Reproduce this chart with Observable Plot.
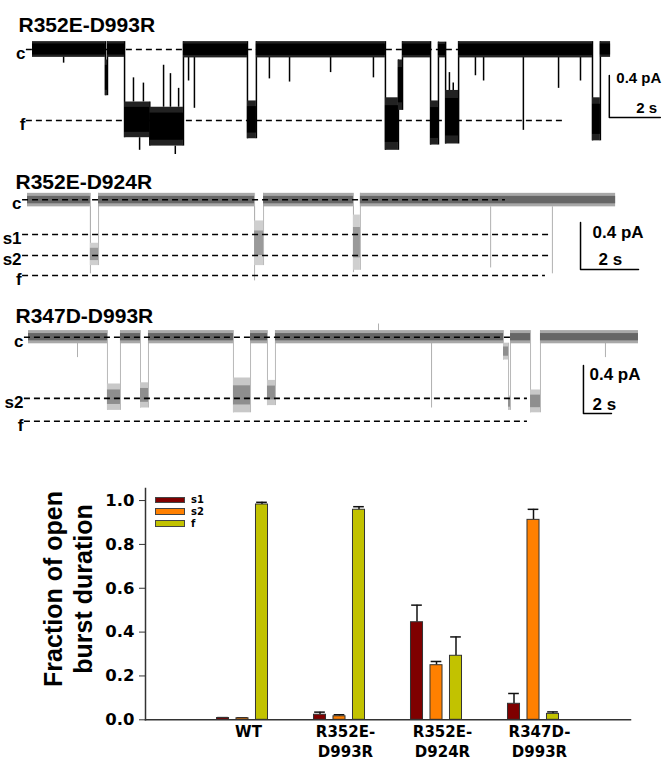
<!DOCTYPE html>
<html><head><meta charset="utf-8">
<script src="https://cdn.jsdelivr.net/npm/d3@7"></script>
<script src="https://cdn.jsdelivr.net/npm/@observablehq/plot@0.6"></script>
<style>
body{margin:0;background:#fff;}
#fig{position:relative;width:670px;height:761px;overflow:hidden;background:#fff;}
.panel{position:absolute;left:0;}
#legend{position:absolute;left:155px;top:494px;font-family:"DejaVu Sans",sans-serif;font-weight:bold;font-size:10px;}
#legend .row{display:flex;align-items:center;height:11.8px;line-height:11.8px;}
#legend .sw{width:30px;height:6.5px;box-sizing:border-box;border:1px solid #444;margin-right:6px;}
</style></head><body><div id="fig"></div>
<script>
// ===== Trace 1: R352E-D993R (time s, current pA relative to closed level)
const t1Name = "R352E-D993R";
const t1Segments = [ // [start, end, low, high, state]
  [0, 2.86, -0.075, 0.075, "c"],
  [2.86, 2.94, -0.44, -0.10, "x"],
  [2.94, 3.61, -0.075, 0.075, "c"],
  [3.61, 4.6, -0.84, -0.50, "f"],
  [4.6, 5.92, -0.92, -0.55, "f"],
  [5.92, 8.43, -0.08, 0.075, "c"],
  [8.43, 8.78, -0.85, -0.49, "f"],
  [8.78, 13.84, -0.08, 0.075, "c"],
  [13.84, 14.35, -0.96, -0.46, "f"],
  [14.35, 14.51, -0.58, -0.10, "x"],
  [14.51, 15.61, -0.08, 0.075, "c"],
  [15.61, 15.92, -0.91, -0.49, "f"],
  [15.92, 16.2, -0.08, 0.07, "c"],
  [16.2, 16.71, -0.90, -0.39, "f"],
  [16.71, 21.96, -0.08, 0.075, "c"],
  [21.96, 22.27, -0.87, -0.46, "f"],
  [22.27, 22.67, -0.075, 0.075, "c"]
];
const t1Spikes = [ // [time, from, to]
  [1.22, -0.07, -0.13], [6.12, -0.07, -0.30], [6.35, -0.07, -0.56], [9.29, -0.07, -0.28],
  [10.08, -0.07, -0.31], [11.69, -0.07, -0.22], [13.37, -0.07, -0.27], [17.37, -0.07, -0.25],
  [17.69, -0.07, -0.30], [19.25, -0.07, -0.77], [20.63, -0.07, -0.37], [21.49, -0.07, -0.30],
  [3.96, -0.5, -0.27], [4.35, -0.5, -0.32], [5.14, -0.55, -0.15], [5.41, -0.55, -0.23],
  [5.73, -0.55, -0.37], [16.35, -0.4, -0.22], [16.5, -0.4, -0.32], [4.2, -0.84, -0.96], [5.6, -0.92, -1.0]
];
const t1Levels = [ // [label, current, dash from, dash to]
  ["c", 0, -0.24, 16.71],
  ["f", -0.676, -0.24, 20.78]
];

// ===== Trace 2: R352E-D924R
const t2Name = "R352E-D924R";
const t2Segments = [
  [0, 2.17, -0.06, 0.055, "c"],
  [2.17, 2.45, -0.56, -0.37, "s2"],
  [2.45, 7.83, -0.06, 0.055, "c"],
  [7.83, 8.14, -0.56, -0.18, "s1"],
  [8.14, 11.24, -0.06, 0.055, "c"],
  [11.24, 11.48, -0.60, -0.13, "s1"],
  [11.48, 20.28, -0.06, 0.055, "c"]
];
const t2Spikes = [
  [2.17, -0.06, -0.63], [7.83, -0.06, -0.69], [11.24, -0.06, -0.62],
  [15.97, -0.06, -0.58], [18.1, -0.06, -0.63]
];
const t2Levels = [
  ["c", 0, -0.17, 16.48],
  ["s1", -0.295, -0.17, 17.97],
  ["s2", -0.474, -0.17, 17.97],
  ["f", -0.644, -0.17, 17.86]
];

// ===== Trace 3: R347D-D993R
const t3Name = "R347D-D993R";
const t3Segments = [
  [0, 5.64, -0.055, 0.055, "c"],
  [5.64, 6.57, -0.61, -0.39, "s2"],
  [6.57, 8.0, -0.055, 0.055, "c"],
  [8.0, 8.57, -0.59, -0.38, "s2"],
  [8.57, 14.64, -0.055, 0.055, "c"],
  [14.64, 15.86, -0.63, -0.34, "s2"],
  [15.86, 17.07, -0.055, 0.055, "c"],
  [17.07, 17.64, -0.57, -0.36, "s2"],
  [17.64, 33.93, -0.055, 0.055, "c"],
  [33.93, 34.29, -0.19, -0.05, "x"],
  [34.29, 34.43, -0.61, -0.49, "s2"],
  [34.43, 35.86, -0.055, 0.055, "c"],
  [35.86, 36.57, -0.63, -0.44, "s2"],
  [36.57, 43.57, -0.055, 0.055, "c"]
];
const t3Spikes = [
  [3.5, -0.05, -0.17], [28.79, -0.05, -0.59], [41.21, -0.05, -0.17], [25.0, 0.05, 0.11]
];
const t3Levels = [
  ["c", 0, -0.29, 34.43],
  ["s2", -0.51, -0.29, 35.64],
  ["f", -0.70, -0.29, 35.64]
];

// scale bar magnitudes
const barPA = 0.4, barS = 2;

// ===== Bar chart
const groups = ["WT", "R352E-\nD993R", "R352E-\nD924R", "R347D-\nD993R"];
const series = ["s1", "s2", "f"];
const seriesColors = ["#7f0000", "#ff8000", "#c2c200"];
const s1Mean = [0.008, 0.023, 0.445, 0.073];
const s1Err  = [0.002, 0.012, 0.078, 0.047];
const s2Mean = [0.007, 0.016, 0.249, 0.912];
const s2Err  = [0.002, 0.007, 0.017, 0.048];
const fMean  = [0.982, 0.958, 0.292, 0.027];
const fErr   = [0.010, 0.014, 0.086, 0.009];
const yTicks = [0, 0.2, 0.4, 0.6, 0.8, 1.0];

// ---------------- drawing ----------------
const fig = document.getElementById("fig");

function trace(o) {
  const segs = o.seg.map(([t0, t1, lo, hi, s]) => ({t0, t1, lo, hi, s}));
  const core = segs.map(d => {
    const m = (d.lo + d.hi) / 2, h = (d.hi - d.lo) / 2 * o.coreRatio;
    return {...d, lo: m - h, hi: m + h};
  });
  const trans = segs.slice(1).map((d, i) => {
    const p = segs[i];
    return {t: d.t0, y1: Math.min(p.lo, d.lo), y2: Math.max(p.hi, d.hi)};
  });
  const spikes = o.spikes.map(([t, a, b]) => ({t, a, b}));
  const levels = o.levels.map(([label, i, a, b]) => ({label, i, a, b}));
  const [bt, bi] = o.barAt;
  const barPts = [[bt, bi + barPA], [bt, bi], [bt + barS, bi]];
  const isC = d => d.s === "c";
  const plot = Plot.plot({
    width: 670, height: o.H, margin: 0,
    x: {axis: null, domain: [-o.x0 / o.pps, (670 - o.x0) / o.pps], range: [0, 670]},
    y: {axis: null, domain: [-(o.top + o.H - o.cy) / o.ppa, (o.cy - o.top) / o.ppa], range: [o.H, 0]},
    style: {fontFamily: "'Liberation Sans', Arial, sans-serif", fontWeight: "bold", overflow: "visible", background: "transparent"},
    marks: [
      Plot.ruleX(trans, {x: "t", y1: "y1", y2: "y2", stroke: o.lineColor, strokeWidth: o.lineWidth}),
      Plot.ruleX(spikes, {x: "t", y1: "a", y2: "b", stroke: o.spikeColor, strokeWidth: o.lineWidth}),
      Plot.rect(segs.filter(d => !isC(d)), {x1: "t0", x2: "t1", y1: "lo", y2: "hi", fill: o.evFill}),
      Plot.rect(core.filter(d => !isC(d)), {x1: "t0", x2: "t1", y1: "lo", y2: "hi", fill: o.evCore}),
      Plot.rect(segs.filter(isC), {x1: "t0", x2: "t1", y1: "lo", y2: "hi", fill: o.cFill}),
      Plot.rect(core.filter(isC), {x1: "t0", x2: "t1", y1: "lo", y2: "hi", fill: o.cCore}),
      Plot.ruleY(levels, {y: "i", x1: "a", x2: "b", stroke: "#000", strokeWidth: 1.6, strokeDasharray: "6,4"}),
      Plot.text(levels, {x: "a", y: "i", text: "label", textAnchor: "end", dx: -1, dy: 4, fontSize: 17, lineAnchor: "middle"}),
      Plot.text([o.name], {frameAnchor: "top-left", text: d => d, dx: o.titleDx, dy: o.titleDy, textAnchor: "start", lineAnchor: "bottom", fontSize: 21}),
      Plot.line(barPts, {x: d => d[0], y: d => d[1], stroke: "#000", strokeWidth: 1.5}),
      Plot.text([barPts[0]], {x: d => d[0], y: d => d[1], text: () => barPA + " pA", dx: o.paDx, dy: o.paDy, textAnchor: "start", lineAnchor: "bottom", fontSize: o.barFont}),
      Plot.text([barPts[1]], {x: d => d[0], y: d => d[1], text: () => barS + " s", dx: o.sDx, dy: o.sDy, textAnchor: "start", lineAnchor: "bottom", fontSize: o.barFont})
    ]
  });
  plot.classList.add("panel");
  plot.style.top = o.top + "px";
  fig.appendChild(plot);
}

trace({name: t1Name, seg: t1Segments, spikes: t1Spikes, levels: t1Levels,
  x0: 32, pps: 25.5, cy: 49, ppa: 105, top: 0, H: 160, coreRatio: 0.7,
  cFill: "#222", cCore: "#000", evFill: "#222", evCore: "#000", lineColor: "#000", spikeColor: "#000", lineWidth: 1.5,
  titleDx: 18, titleDy: 31, barAt: [22.62, -0.648], barFont: 15, paDx: 7, paDy: 7, sDx: 27, sDy: -5});

trace({name: t2Name, seg: t2Segments, spikes: t2Spikes, levels: t2Levels,
  x0: 27, pps: 29, cy: 199.3, ppa: 117.5, top: 160, H: 130, coreRatio: 0.55,
  cFill: "#a8a8a8", cCore: "#666", evFill: "#cfcfcf", evCore: "#9a9a9a", lineColor: "#b8b8b8", spikeColor: "#b0b0b0", lineWidth: 1,
  titleDx: 15, titleDy: 28, barAt: [19.07, -0.593], barFont: 17, paDx: 12, paDy: 16, sDx: 18, sDy: -4});

trace({name: t3Name, seg: t3Segments, spikes: t3Spikes, levels: t3Levels,
  x0: 28, pps: 14, cy: 336.7, ppa: 120, top: 290, H: 150, coreRatio: 0.55,
  cFill: "#a8a8a8", cCore: "#666", evFill: "#c8c8c8", evCore: "#8e8e8e", lineColor: "#b8b8b8", spikeColor: "#b0b0b0", lineWidth: 1,
  titleDx: 15, titleDy: 32, barAt: [39.64, -0.636], barFont: 17, paDx: 6, paDy: 14, sDx: 9, sDy: -4});

// bar chart
const means = [s1Mean, s2Mean, fMean], errs = [s1Err, s2Err, fErr];
const rows = [];
groups.forEach((g, gi) => series.forEach((s, si) => rows.push({
  c: gi + 1 + (si - 1) * 0.201, s, v: means[si][gi], e: errs[si][gi]
})));
const hw = 0.062;
const bar = Plot.plot({
  width: 670, height: 291,
  marginLeft: 145, marginRight: 40, marginTop: 18, marginBottom: 41.7,
  x: {domain: [0, 5], axis: null},
  y: {domain: [0, 1.055], axis: null},
  color: {domain: series, range: seriesColors},
  style: {fontFamily: "'DejaVu Sans', sans-serif", fontWeight: "bold", overflow: "visible", background: "transparent"},
  marks: [
    Plot.ruleX(rows, {x: "c", y1: "v", y2: d => d.v + d.e, stroke: "#111", strokeWidth: 1.5}),
    Plot.ruleY(rows, {y: d => d.v + d.e, x1: d => d.c - 0.055, x2: d => d.c + 0.055, stroke: "#111", strokeWidth: 1.5}),
    Plot.rect(rows, {x1: d => d.c - hw, x2: d => d.c + hw, y1: 0, y2: "v", fill: "s", stroke: "#333", strokeWidth: 1}),
    Plot.frame({anchor: "left", stroke: "#333", strokeWidth: 1.5}),
    Plot.frame({anchor: "bottom", stroke: "#333", strokeWidth: 1.5}),
    Plot.axisY({ticks: yTicks, tickFormat: d3.format(".1f"), tickSize: 6, tickPadding: 5, fontSize: 16.5, label: null, stroke: "#333"}),
    Plot.axisX({ticks: [1, 2, 3, 4], tickFormat: d => groups[d - 1], tickSize: 0, tickPadding: 3, fontSize: 15, lineHeight: 1.35, dx: 6, label: null})
  ]
});
bar.classList.add("panel");
bar.style.top = "470px";
fig.appendChild(bar);

// y title
const ttl = d3.select(bar).append("text")
  .attr("transform", "translate(0,119) rotate(-90)")
  .attr("text-anchor", "middle")
  .style("font-family", "'Liberation Sans', Arial, sans-serif")
  .style("font-weight", "bold").style("font-size", "25px").attr("fill", "#000");
ttl.append("tspan").attr("x", 0).attr("y", 62).text("Fraction of open");
ttl.append("tspan").attr("x", 0).attr("y", 92).text("burst duration");

// legend
const lg = document.createElement("div");
lg.id = "legend";
series.forEach((s, i) => {
  const r = document.createElement("div"); r.className = "row";
  const sw = document.createElement("div"); sw.className = "sw"; sw.style.background = seriesColors[i];
  const t = document.createElement("span"); t.textContent = s;
  r.appendChild(sw); r.appendChild(t); lg.appendChild(r);
});
fig.appendChild(lg);
</script></body></html>
